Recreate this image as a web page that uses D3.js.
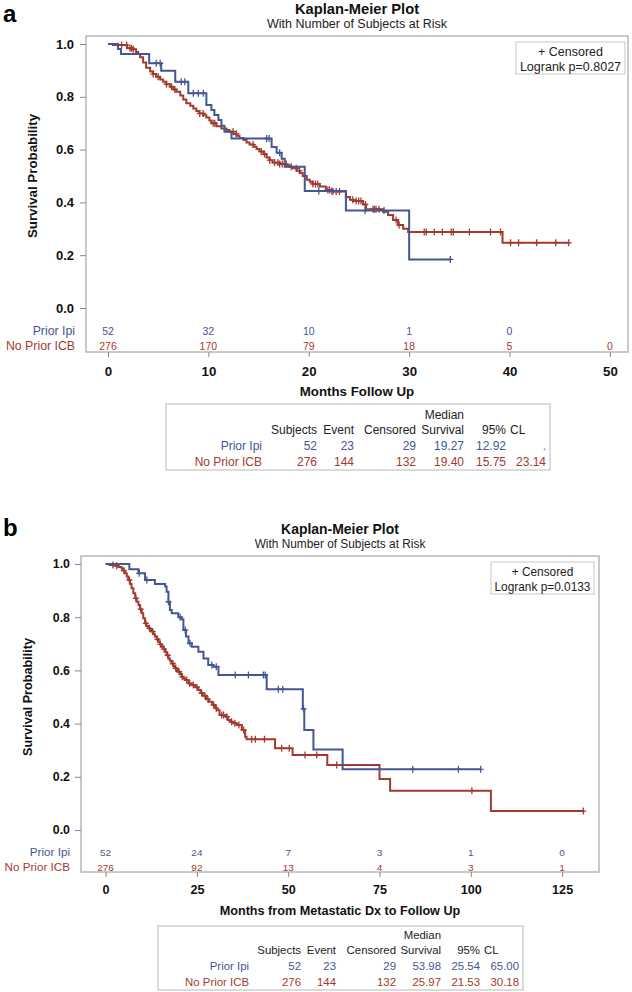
<!DOCTYPE html>
<html><head><meta charset="utf-8">
<script src="https://cdn.jsdelivr.net/npm/d3@7/dist/d3.min.js"></script>
<style>
body{margin:0;background:#fff;}
svg text{font-family:"Liberation Sans",Arial,sans-serif;}
</style></head><body>
<svg id="c" width="632" height="992"></svg>
<script>
// ---------------- DATA: panel a ----------------
const a_letter = "a";
const a_xLabel = "Months Follow Up";
const a_timeTicks = [0, 10, 20, 30, 40, 50];
const a_survTicks = [0.0, 0.2, 0.4, 0.6, 0.8, 1.0];
const a_riskPrior = ["52", "32", "10", "1", "0", ""];
const a_riskNoPrior = ["276", "170", "79", "18", "5", "0"];
const a_pValue = "Logrank p=0.8027";
const a_statsPrior = ["52", "23", "29", "19.27", "12.92", "."];
const a_statsNoPrior = ["276", "144", "132", "19.40", "15.75", "23.14"];
// Prior Ipi (blue) KM steps
const a_blueT = [1.0, 1.3, 4.1, 5.3, 6.7, 8.0, 9.8, 10.3, 10.6, 11.0, 11.3, 11.6, 12.3, 16.3, 16.8, 17.3, 17.6, 19.6, 23.7, 30.0];
const a_blueS = [0.981, 0.962, 0.927, 0.899, 0.857, 0.813, 0.769, 0.750, 0.731, 0.712, 0.690, 0.668, 0.642, 0.610, 0.588, 0.565, 0.535, 0.443, 0.369, 0.184];
const a_blueC = [4.8, 5.2, 7.3, 7.65, 8.5, 9.0, 9.5, 15.8, 16.05, 17.1, 21.0, 22.3, 25.6, 27.5, 34.1];
// No Prior ICB (red) KM steps
const a_redT = [0.5, 1.9, 2.5, 2.8, 3.0, 3.2, 3.5, 3.8, 4.2, 4.5, 4.8, 5.2, 5.5, 5.8, 6.2, 6.5, 6.8, 7.2, 7.5, 7.8,
  8.2, 8.5, 8.8, 9.1, 9.5, 9.8, 10.1, 10.3, 10.8, 11.3, 11.8, 12.1, 12.5, 12.8, 13.1, 13.5, 13.8, 14.1, 14.5, 14.8,
  15.1, 15.5, 15.8, 16.1, 16.4, 17.1, 17.8, 18.1, 18.4, 18.8, 19.1, 19.4, 19.8, 20.1, 20.4, 21.1, 21.7, 22.4, 23.7, 24.1,
  24.4, 25.4, 25.7, 27.4, 27.9, 28.4, 28.9, 29.4, 29.9, 39.3];
const a_redS = [0.996, 0.984, 0.980, 0.970, 0.962, 0.950, 0.930, 0.910, 0.896, 0.886, 0.876, 0.866, 0.857, 0.848, 0.838, 0.828, 0.819, 0.805, 0.790, 0.776,
  0.766, 0.756, 0.746, 0.737, 0.730, 0.722, 0.710, 0.700, 0.688, 0.680, 0.674, 0.668, 0.660, 0.652, 0.644, 0.636, 0.627, 0.619, 0.611, 0.602,
  0.593, 0.583, 0.570, 0.560, 0.551, 0.545, 0.541, 0.535, 0.529, 0.520, 0.511, 0.500, 0.486, 0.478, 0.470, 0.460, 0.447, 0.441, 0.420, 0.410,
  0.405, 0.392, 0.374, 0.365, 0.352, 0.333, 0.314, 0.300, 0.288, 0.247];
const a_redC = [1.36, 1.86, 2.19, 2.35, 2.52, 4.5, 5.0, 5.83, 6.33, 6.66, 9.14, 9.48, 10.47, 10.64, 12.46, 12.79, 14.45, 15.27, 15.6, 16.1,
  16.6, 16.93, 17.1, 17.36, 17.76, 18.25, 18.75, 19.08, 20.41, 20.67, 20.9, 21.9, 22.07, 22.4, 22.73, 23.06, 24.39, 24.72, 24.98, 25.2,
  25.64, 26.4, 26.54, 26.7, 27.0, 28.7, 29.0, 31.5, 31.7, 32.5, 33.3, 34.2, 34.4, 36.0, 38.1, 39.1, 40.1, 40.9, 42.7, 44.6, 45.9];

// ---------------- DATA: panel b ----------------
const b_letter = "b";
const b_xLabel = "Months from Metastatic Dx to Follow Up";
const b_timeTicks = [0, 25, 50, 75, 100, 125];
const b_survTicks = [0.0, 0.2, 0.4, 0.6, 0.8, 1.0];
const b_riskPrior = ["52", "24", "7", "3", "1", "0"];
const b_riskNoPrior = ["276", "92", "13", "4", "3", "1"];
const b_pValue = "Logrank p=0.0133";
const b_statsPrior = ["52", "23", "29", "53.98", "25.54", "65.00"];
const b_statsNoPrior = ["276", "144", "132", "25.97", "21.53", "30.18"];
const b_blueT = [6.5, 9.0, 10.8, 13.5, 16.3, 16.7, 17.2, 17.6, 18.1, 19.9, 20.8, 21.3, 22.0, 22.7, 23.6, 25.4, 26.8, 28.1, 29.5, 30.9, 44.1, 54.0, 54.4, 56.9, 64.9];
const b_blueS = [0.980, 0.965, 0.940, 0.925, 0.915, 0.896, 0.858, 0.827, 0.815, 0.800, 0.792, 0.752, 0.727, 0.702, 0.689, 0.670, 0.645, 0.620, 0.614, 0.583, 0.529, 0.455, 0.376, 0.303, 0.228];
const b_blueC = [9.2, 11.3, 17.2, 20.4, 21.8, 23.1, 29.1, 30.3, 35.5, 39.1, 43.2, 43.7, 47.3, 48.5, 54.2, 84.1, 96.6, 102.7];
const b_redT = [1.1, 2.5, 3.5, 4.4, 4.9, 5.3, 5.8, 6.2, 6.7, 7.1, 7.6, 8.1, 8.5, 9.0, 9.4, 9.9, 10.3, 10.8, 11.2, 11.7,
  12.2, 12.6, 13.1, 13.5, 14.0, 14.5, 14.9, 15.4, 15.8, 16.3, 16.7, 17.2, 17.6, 18.1, 18.6, 19.0, 19.5, 19.9, 20.4, 20.8,
  21.3, 21.8, 22.7, 23.5, 24.5, 25.4, 26.0, 26.6, 27.5, 28.3, 29.2, 30.0, 30.5, 31.2, 33.0, 33.5, 34.1, 35.0, 35.9, 37.3,
  38.2, 38.6, 46.4, 51.2, 60.7, 75.0, 77.9, 105.5];
const b_redS = [0.996, 0.993, 0.989, 0.982, 0.975, 0.965, 0.953, 0.940, 0.925, 0.909, 0.890, 0.871, 0.858, 0.846, 0.830, 0.815, 0.796, 0.777, 0.767, 0.758,
  0.752, 0.746, 0.736, 0.727, 0.717, 0.708, 0.698, 0.689, 0.680, 0.670, 0.657, 0.645, 0.636, 0.626, 0.617, 0.608, 0.601, 0.595, 0.586, 0.576,
  0.570, 0.564, 0.551, 0.545, 0.537, 0.526, 0.515, 0.505, 0.492, 0.482, 0.470, 0.458, 0.450, 0.432, 0.426, 0.414, 0.407, 0.401, 0.395, 0.376,
  0.351, 0.341, 0.307, 0.282, 0.244, 0.192, 0.148, 0.071];
const b_redC = [2.0, 3.0, 5.0, 6.5, 8.3, 9.6, 11.0, 12.0, 12.9, 14.2, 15.0, 16.0, 17.0, 18.4, 19.2, 20.1, 21.0, 22.2, 23.0, 24.0,
  25.0, 26.3, 27.2, 28.0, 29.6, 30.3, 31.8, 32.3, 33.2, 34.5, 35.4, 36.5, 37.8, 40.0, 41.0, 43.5, 48.2, 50.3, 54.6, 57.8,
  63.3, 100.3, 130.8];

// shared labels
const groupNames = ["Prior Ipi", "No Prior ICB"];
const statHeaders = ["Subjects", "Event", "Censored", "Survival", "95%"];

const BLUE = "#445694", RED = "#A23A2E", FRAME = "#b8b8b8";
const svg = d3.select("#c");

function survAt(T, S, c) { const i = d3.bisectRight(T, c); return i === 0 ? 1 : S[i - 1]; }

function drawPanel(L, D) {
  const g = svg.append("g");
  const fs = L.fs;
  const x = d3.scaleLinear().domain(L.xDomain).range([L.left, L.right]);
  const y = d3.scaleLinear().domain([0, 1]).range([L.y0, L.y1]);
  const cx = (L.left + L.right) / 2;

  g.append("text").attr("x", 3).attr("y", L.letterY).attr("font-size", 24).attr("font-weight", "bold").text(D.letter);
  g.append("text").attr("x", cx).attr("y", L.top - 22).attr("text-anchor", "middle").attr("font-size", 14.7 * fs).attr("font-weight", "bold").attr("fill", "#111").text("Kaplan-Meier Plot");
  g.append("text").attr("x", cx).attr("y", L.top - 8.5).attr("text-anchor", "middle").attr("font-size", 12.5 * fs).attr("fill", "#222").text("With Number of Subjects at Risk");

  // frame
  g.append("rect").attr("x", L.left).attr("y", L.top).attr("width", L.right - L.left).attr("height", L.bottom - L.top)
    .attr("fill", "none").attr("stroke", FRAME).attr("stroke-width", 1.5);

  // y axis
  const ya = g.append("g").attr("transform", `translate(${L.left},0)`)
    .call(d3.axisLeft(y).tickValues(D.survTicks).tickFormat(d3.format(".1f")).tickSize(6).tickPadding(L.yPad));
  ya.select(".domain").remove();
  ya.selectAll("line").attr("stroke", "#888");
  ya.selectAll("text").attr("font-size", 13 * fs).attr("font-weight", "bold").attr("fill", "#111").attr("font-family", "Liberation Sans, Arial, sans-serif");

  // x axis
  const xa = g.append("g").attr("transform", `translate(0,${L.bottom})`)
    .call(d3.axisBottom(x).tickValues(D.timeTicks).tickFormat(d3.format("d")).tickSize(5).tickPadding(L.xPad));
  xa.select(".domain").remove();
  xa.selectAll("line").attr("stroke", "#888");
  xa.selectAll("text").attr("font-size", 13.3 * fs).attr("font-weight", "bold").attr("fill", "#111").attr("font-family", "Liberation Sans, Arial, sans-serif");

  g.append("text").attr("x", cx).attr("y", L.xTitleY).attr("text-anchor", "middle").attr("font-size", 13.3 * fs).attr("font-weight", "bold").attr("fill", "#111").text(D.xLabel);
  g.append("text").attr("transform", `translate(${L.left - 49},${(y(0) + y(1)) / 2}) rotate(-90)`).attr("text-anchor", "middle")
    .attr("font-size", 13.3 * fs).attr("font-weight", "bold").attr("fill", "#111").text("Survival Probability");

  // at-risk table
  const rows = [[D.riskPrior, BLUE, L.riskY[0]], [D.riskNoPrior, RED, L.riskY[1]]];
  rows.forEach(([vals, col, ry], k) => {
    g.append("text").attr("x", L.left - 11).attr("y", ry + 4.3).attr("text-anchor", "end").attr("font-size", 12.3 * fs).attr("fill", col).text(groupNames[k]);
    g.selectAll(null).data(D.timeTicks).enter().append("text")
      .attr("x", d => x(d)).attr("y", ry + 3.6).attr("text-anchor", "middle").attr("font-size", 10.5 * fs).attr("fill", col)
      .text((d, i) => vals[i]);
  });

  // curves
  const line = d3.line().x(d => x(d[0])).y(d => y(d[1])).curve(d3.curveStepAfter);
  const curves = [[D.redT, D.redS, D.redC, RED], [D.blueT, D.blueS, D.blueC, BLUE]];
  curves.forEach(([T, S, C, col]) => {
    const end = Math.max(d3.max(C), d3.max(T));
    const pts = [[0, 1]].concat(T.map((t, i) => [t, S[i]])).concat([[end, S[S.length - 1]]]);
    g.append("path").attr("d", line(pts)).attr("fill", "none").attr("stroke", col).attr("stroke-width", 2);
    g.selectAll(null).data(C).enter().append("path")
      .attr("d", c => { const px = x(c), py = y(survAt(T, S, c)); return `M${px},${py - 3.5}v7M${px - 3},${py}h6`; })
      .attr("stroke", col).attr("stroke-width", 1.3).attr("fill", "none");
  });

  // legend box
  g.append("rect").attr("x", L.legend[0]).attr("y", L.legend[1]).attr("width", L.legend[2]).attr("height", L.legend[3])
    .attr("fill", "#fff").attr("stroke", "#c8c8c8").attr("stroke-width", 1);
  const lcx = L.legend[0] + L.legend[2] / 2;
  g.append("text").attr("x", lcx).attr("y", L.legend[1] + 13.5).attr("text-anchor", "middle").attr("font-size", 12.5 * fs).attr("fill", "#222").text("+ Censored");
  g.append("text").attr("x", lcx).attr("y", L.legend[1] + 28.5).attr("text-anchor", "middle").attr("font-size", 12.5 * fs).attr("fill", "#222").text(D.pValue);

  // stats table
  const T = L.table;
  g.append("rect").attr("x", T.box[0]).attr("y", T.box[1]).attr("width", T.box[2] - T.box[0]).attr("height", T.box[3] - T.box[1])
    .attr("fill", "none").attr("stroke", "#c8c8c8").attr("stroke-width", 1.3);
  const tf = 12 * fs;
  g.append("text").attr("x", T.cols[3]).attr("y", T.rowsY[0] + 4.3).attr("text-anchor", "end").attr("font-size", tf).attr("fill", "#222").text("Median");
  statHeaders.forEach((h, i) => g.append("text").attr("x", T.cols[i]).attr("y", T.rowsY[1] + 4.3).attr("text-anchor", "end").attr("font-size", tf).attr("fill", "#222").text(h));
  g.append("text").attr("x", T.clX).attr("y", T.rowsY[1] + 4.3).attr("font-size", tf).attr("fill", "#222").text("CL");
  [[D.statsPrior, BLUE, T.rowsY[2]], [D.statsNoPrior, RED, T.rowsY[3]]].forEach(([vals, col, ry], k) => {
    g.append("text").attr("x", T.labelX).attr("y", ry + 4.3).attr("text-anchor", "end").attr("font-size", tf).attr("fill", col).text(groupNames[k]);
    vals.forEach((v, i) => g.append("text").attr("x", T.cols[i]).attr("y", ry + 4.3).attr("text-anchor", "end").attr("font-size", tf).attr("fill", col).text(v));
  });
}

drawPanel(
  { fs: 1, letterY: 22, left: 86, right: 628, top: 36, bottom: 352, xDomain: [-2.19, 51.8], y0: 308, y1: 44, yPad: 6, xPad: 10,
    xTitleY: 396, riskY: [331, 346], legend: [516, 42, 109, 32],
    table: { box: [166, 404, 550, 470], cols: [317, 354, 416, 464, 506, 546], clX: 510, labelX: 262, rowsY: [415, 430, 446, 462] } },
  { letter: a_letter, xLabel: a_xLabel, timeTicks: a_timeTicks, survTicks: a_survTicks, riskPrior: a_riskPrior, riskNoPrior: a_riskNoPrior,
    pValue: a_pValue, statsPrior: a_statsPrior, statsNoPrior: a_statsNoPrior,
    blueT: a_blueT, blueS: a_blueS, blueC: a_blueC, redT: a_redT, redS: a_redS, redC: a_redC });

drawPanel(
  { fs: 0.95, letterY: 536, left: 81, right: 599, top: 556, bottom: 872, xDomain: [-6.74, 135.1], y0: 830, y1: 564, yPad: 5, xPad: 8,
    xTitleY: 915, riskY: [852, 867], legend: [491, 562, 103, 32],
    table: { box: [158, 926, 523, 990], cols: [301, 336, 396, 441, 480, 519], clX: 484, labelX: 249, rowsY: [935, 950, 966, 982] } },
  { letter: b_letter, xLabel: b_xLabel, timeTicks: b_timeTicks, survTicks: b_survTicks, riskPrior: b_riskPrior, riskNoPrior: b_riskNoPrior,
    pValue: b_pValue, statsPrior: b_statsPrior, statsNoPrior: b_statsNoPrior,
    blueT: b_blueT, blueS: b_blueS, blueC: b_blueC, redT: b_redT, redS: b_redS, redC: b_redC });
</script>
</body></html>
